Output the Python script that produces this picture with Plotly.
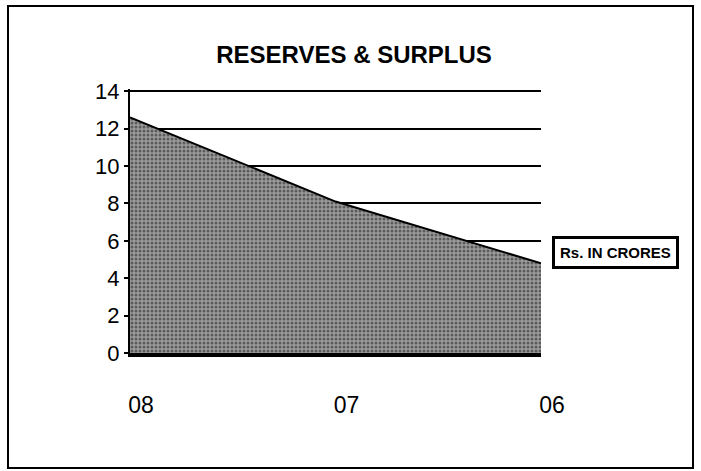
import plotly.graph_objects as go

# ---- data ----
years = ["08", "07", "06"]
reserves = [12.6, 8.1, 4.8]
series_name = "Rs. IN CRORES"
chart_title = "RESERVES & SURPLUS"
y_ticks = [0, 2, 4, 6, 8, 10, 12, 14]

FONT = "Arial, Liberation Sans, sans-serif"

fig = go.Figure()
fig.add_trace(go.Scatter(
    x=years, y=reserves, name=series_name, mode="lines",
    line=dict(color="black", width=2),
    fill="tozeroy",
    fillcolor="#909090",
    fillpattern=dict(shape=".", bgcolor="#9c9c9c", fgcolor="#1a1a1a",
                     size=4, solidity=0.45),
    showlegend=False,
))

L, R, T, B = 130, 160, 89, 118
W, H = 701, 471
pw, ph = W - L - R, H - T - B

def px_x(x):
    return (x - L) / pw

def px_y(y):
    return (H - B - y) / ph

fig.update_layout(
    width=W, height=H,
    margin=dict(l=L, r=R, t=T, b=B, pad=0),
    paper_bgcolor="white", plot_bgcolor="white",
    font=dict(family=FONT, color="black"),
    title=dict(text="<b>" + chart_title + "</b>", x=0.505, xanchor="center",
               y=1 - 55 / H, yanchor="middle",
               font=dict(size=24, family=FONT, color="black")),
    xaxis=dict(type="category", range=[0, 2], showgrid=False,
               showline=True, linecolor="black", linewidth=4,
               layer="above traces", ticks="", zeroline=False,
               tickfont=dict(size=23, family=FONT),
               ticklabelshift=11, ticklabelstandoff=28),
    yaxis=dict(range=[0, 14.12], tickvals=y_ticks, showgrid=True,
               gridcolor="black", gridwidth=2,
               showline=True, linecolor="black", linewidth=2,
               layer="above traces", ticks="outside", ticklen=4,
               tickcolor="black", tickwidth=2, zeroline=False,
               tickfont=dict(size=22, family=FONT)),
    showlegend=False,
    shapes=[dict(type="rect", xref="paper", yref="paper",
                 x0=px_x(8), x1=px_x(693), y0=px_y(468), y1=px_y(6),
                 line=dict(color="black", width=2), fillcolor="rgba(0,0,0,0)")],
    annotations=[dict(text="<b>" + series_name + "</b>", xref="paper", yref="paper",
                      x=px_x(615), y=px_y(252), xanchor="center", yanchor="middle",
                      showarrow=False, font=dict(size=15, family=FONT, color="black"),
                      bordercolor="black", borderwidth=3, borderpad=5,
                      bgcolor="white")],
)

fig.write_html("out.html", config={"displayModeBar": False},
               post_script="document.body.style.margin='0';")
